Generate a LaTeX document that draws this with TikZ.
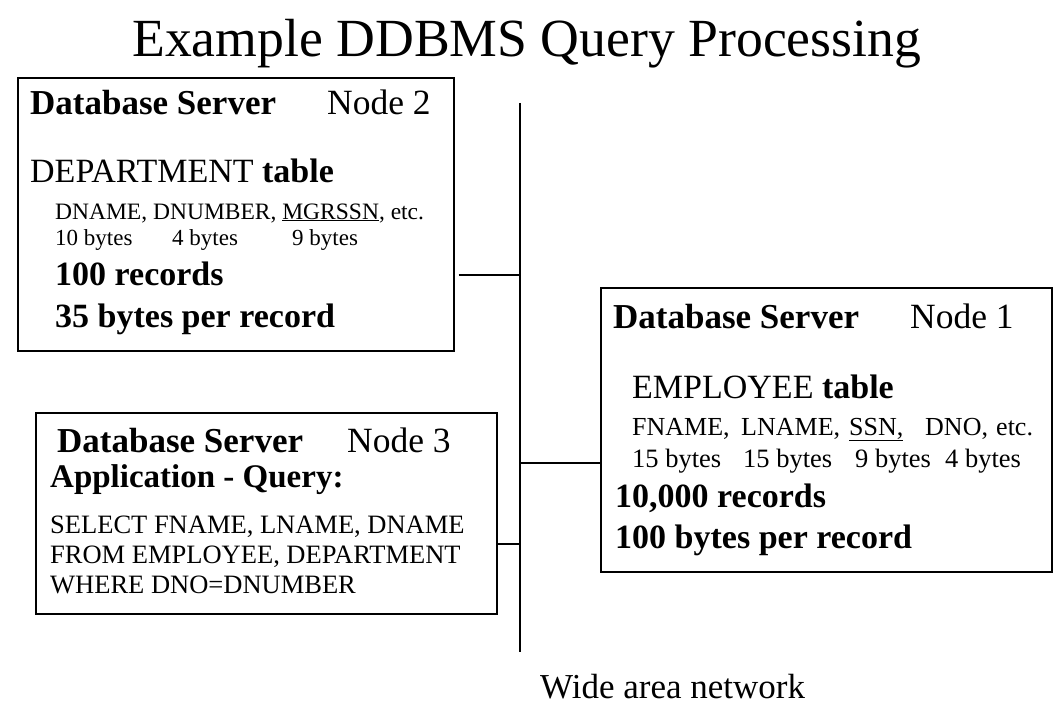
\documentclass[tikz,border=0pt]{standalone}
\usepackage{fontspec}
\setmainfont{Liberation Serif}
\newcommand\fsz[1]{\fontsize{#1}{#1}\selectfont}
\begin{document}
\begin{tikzpicture}[x=1pt,y=-1pt,
  box/.style={draw, line width=1.6pt, rectangle, inner sep=0pt, anchor=north west},
  txt/.style={anchor=base west, inner sep=0pt},
  wire/.style={line width=1.4pt}]
\useasboundingbox[fill=white] (0,0) rectangle (1053,706);

% title
\node[txt] (title) at (132,57) {\fsz{53.7}Example DDBMS Query Processing};

% boxes
\node[box, minimum width=436pt, minimum height=273pt] (n2) at (17,77) {};
\node[box, minimum width=451pt, minimum height=284pt] (n1) at (600,287) {};
\node[box, minimum width=461pt, minimum height=201pt] (n3) at (35,412) {};

% network bus
\coordinate (bt) at (520,103);
\coordinate (bb) at (520,652);
\coordinate (c2) at (520,275);
\coordinate (c1) at (520,463);
\coordinate (c3) at (520,544);
\draw[wire] (bt) -- (bb);
\draw[wire, shorten <=4pt] (n2.east |- c2) -- (c2);
\draw[wire] (c1) -- (n1.west |- c1);
\draw[wire] (n3.east |- c3) -- (c3);
\node[txt] (wan) at (540,698) {\fsz{35}Wide area network};

% Node 2
\node[txt] (a1) at (30,115) {\fsz{35}\bfseries Database Server};
\node[txt] (a2) at (327,115) {\fsz{35.5}Node 2};
\node[txt] (a3) at (30,183) {\fsz{34}DEPARTMENT \textbf{table}};
\node[txt] (a4) at (55,219) {\fsz{23.5}DNAME, DNUMBER, \underline{MGRSSN}, etc.};
\node[txt] (a5) at (55,245) {\fsz{23}10 bytes};
\node[txt] (a6) at (172,245) {\fsz{23}4 bytes};
\node[txt] (a7) at (292,245) {\fsz{23}9 bytes};
\node[txt] (a8) at (55,285) {\fsz{34}\bfseries 100 records};
\node[txt] (a9) at (55,327) {\fsz{34}\bfseries 35 bytes per record};

% Node 1
\node[txt] (b1) at (613,328) {\fsz{35}\bfseries Database Server};
\node[txt] (b2) at (910,328) {\fsz{35.5}Node 1};
\node[txt] (b3) at (632,398) {\fsz{34}EMPLOYEE \textbf{table}};
\node[txt] (b4) at (632,435) {\fsz{26}FNAME,};
\node[txt] (b5) at (741,435) {\fsz{26}LNAME,};
\node[txt] (b6) at (849,435) {\fsz{26}\underline{SSN,}};
\node[txt] (b7) at (925,435) {\fsz{26}DNO,};
\node[txt] (b8) at (996,435) {\fsz{26}etc.};
\node[txt] (b9) at (632,467) {\fsz{26.5}15 bytes};
\node[txt] (b10) at (743,467) {\fsz{26.5}15 bytes};
\node[txt] (b11) at (855,467) {\fsz{26.5}9 bytes};
\node[txt] (b12) at (945,467) {\fsz{26.5}4 bytes};
\node[txt] (b13) at (615,507) {\fsz{34}\bfseries 10,000 records};
\node[txt] (b14) at (615,548) {\fsz{34}\bfseries 100 bytes per record};

% Node 3
\node[txt] (d1) at (57,452) {\fsz{35}\bfseries Database Server};
\node[txt] (d2) at (347,452) {\fsz{35.5}Node 3};
\node[txt] (d3) at (50,487) {\fsz{33}\bfseries Application - Query:};
\node[txt] (d4) at (50,533) {\fsz{26.5}SELECT FNAME, LNAME, DNAME};
\node[txt] (d5) at (50,563) {\fsz{26.5}FROM EMPLOYEE, DEPARTMENT};
\node[txt] (d6) at (50,593) {\fsz{26.5}WHERE DNO=DNUMBER};
\end{tikzpicture}
\end{document}
